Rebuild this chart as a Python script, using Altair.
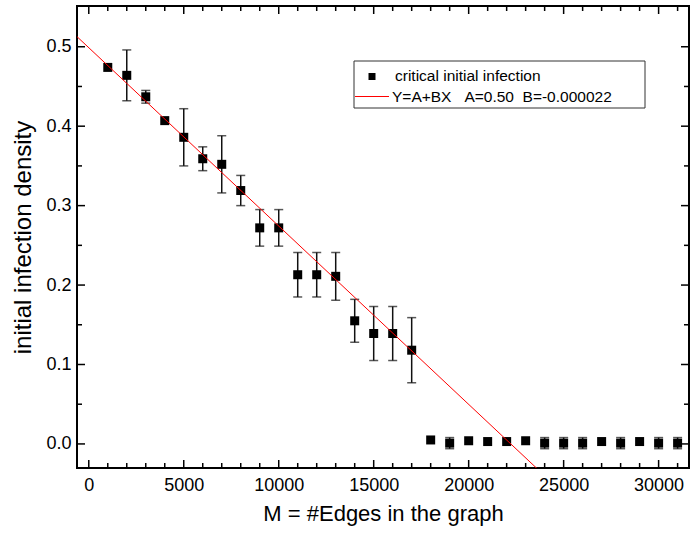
import altair as alt
import pandas as pd

# ---- data ----
m_edges = [1000, 2000, 3000, 4000, 5000, 6000, 7000, 8000, 9000, 10000,
           11000, 12000, 13000, 14000, 15000, 16000, 17000, 18000, 19000, 20000,
           21000, 22000, 23000, 24000, 25000, 26000, 27000, 28000, 29000, 30000, 31000]
density = [0.474, 0.464, 0.437, 0.407, 0.386, 0.359, 0.352, 0.319, 0.272, 0.272,
           0.213, 0.213, 0.211, 0.155, 0.139, 0.139, 0.118, 0.005, 0.001, 0.004,
           0.003, 0.003, 0.004, 0.001, 0.001, 0.001, 0.003, 0.001, 0.003, 0.001, 0.001]
err = [0.0, 0.032, 0.008, 0.0, 0.036, 0.015, 0.036, 0.019, 0.023, 0.023,
       0.028, 0.028, 0.030, 0.027, 0.034, 0.034, 0.041, 0.0, 0.007, 0.0,
       0.0, 0.0, 0.0, 0.007, 0.007, 0.007, 0.0, 0.007, 0.0, 0.007, 0.007]
fit_A = 0.4988
fit_B = -0.00002245
NB = "\u00a0"
series_label = "critical initial infection"
fit_label = f"Y=A+BX{NB}{NB}{NB}A=0.50{NB}{NB}B=-0.000022"

x_domain = [-620, 31600]
y_domain = [-0.0303, 0.5513]
x_major = [0, 5000, 10000, 15000, 20000, 25000, 30000]
x_minor = [v for v in range(1000, 32000, 1000) if v % 5000 != 0]
y_major = [0.0, 0.1, 0.2, 0.3, 0.4, 0.5]
y_minor = [0.05, 0.15, 0.25, 0.35, 0.45]

W, H = 612, 462
FONT = "Liberation Sans"

df = pd.DataFrame({"x": m_edges, "y": density, "err": err})
df["lo"] = df["y"] - df["err"]
df["hi"] = df["y"] + df["err"]
df_err = df[df["err"] > 0]

fit_x = [x_domain[0], 24500]
fit_df = pd.DataFrame({"x": fit_x, "y": [fit_A + fit_B * v for v in fit_x]})

xscale = alt.Scale(domain=x_domain, nice=False, zero=False)
yscale = alt.Scale(domain=y_domain, nice=False, zero=False)
xaxis = alt.Axis(values=x_major, format="d", ticks=False, domain=False, grid=False,
                 labelFontSize=18, labelPadding=8, labelFont=FONT, labelColor="black",
                 title="M = #Edges in the graph", titleFontSize=22, titleFont=FONT,
                 titleFontWeight="normal", titleColor="black", titlePadding=9)
yaxis = alt.Axis(values=y_major, format=".1f", ticks=False, domain=False, grid=False,
                 labelFontSize=18, labelPadding=6, labelFont=FONT, labelColor="black",
                 title="initial infection density", titleFontSize=24, titleFont=FONT,
                 titleFontWeight="normal", titleColor="black", titlePadding=10)


def X(field):
    return alt.X(f"{field}:Q", scale=xscale, axis=xaxis)


def Y(field):
    return alt.Y(f"{field}:Q", scale=yscale, axis=yaxis)


bars = alt.Chart(df_err).mark_rule(color="#111", strokeWidth=1.5).encode(
    x=X("x"), y=Y("lo"), y2="hi:Q")
cap_lo = alt.Chart(df_err).mark_tick(color="#111", orient="horizontal", size=9, thickness=1.5).encode(
    x=X("x"), y=Y("lo"))
cap_hi = alt.Chart(df_err).mark_tick(color="#111", orient="horizontal", size=9, thickness=1.5).encode(
    x=X("x"), y=Y("hi"))
points = alt.Chart(df).mark_square(size=81, color="black", opacity=1, filled=True).encode(
    x=X("x"), y=Y("y"))
fit = alt.Chart(fit_df).mark_line(color="#ff0000", strokeWidth=1, clip=True).encode(
    x=X("x"), y=Y("y"))

# inward tick marks on all four sides
xmaj = pd.DataFrame({"x": x_major})
xmin = pd.DataFrame({"x": x_minor})
ymaj = pd.DataFrame({"y": y_major})
ymin = pd.DataFrame({"y": y_minor})
tick_layers = []
for d, ln in ((xmaj, 8), (xmin, 5)):
    tick_layers.append(alt.Chart(d).mark_rule(color="black", strokeWidth=1.5).encode(
        x=X("x"), y=alt.value(H), y2=alt.value(H - ln)))
    tick_layers.append(alt.Chart(d).mark_rule(color="black", strokeWidth=1.5).encode(
        x=X("x"), y=alt.value(0), y2=alt.value(ln)))
for d, ln in ((ymaj, 8), (ymin, 5)):
    tick_layers.append(alt.Chart(d).mark_rule(color="black", strokeWidth=1.5).encode(
        y=Y("y"), x=alt.value(0), x2=alt.value(ln)))
    tick_layers.append(alt.Chart(d).mark_rule(color="black", strokeWidth=1.5).encode(
        y=Y("y"), x=alt.value(W), x2=alt.value(W - ln)))

# legend box
one = pd.DataFrame({"a": [0]})
leg_box = alt.Chart(one).mark_rect(fill="white", stroke="#333", strokeWidth=1).encode(
    x=alt.value(277), x2=alt.value(568), y=alt.value(55), y2=alt.value(102))
leg_sq = alt.Chart(one).mark_square(size=49, color="black", opacity=1).encode(
    x=alt.value(295), y=alt.value(70.5))
leg_line = alt.Chart(one).mark_rule(color="#ff0000", strokeWidth=1).encode(
    x=alt.value(278), x2=alt.value(312), y=alt.value(90.5))
leg_txt1 = alt.Chart(pd.DataFrame({"t": [series_label]})).mark_text(
    align="left", baseline="middle", font=FONT, fontSize=15.5, color="black").encode(
    x=alt.value(318), y=alt.value(69.5), text="t:N")
leg_txt2 = alt.Chart(pd.DataFrame({"t": [fit_label]})).mark_text(
    align="left", baseline="middle", font=FONT, fontSize=15.5, color="black").encode(
    x=alt.value(315), y=alt.value(90.5), text="t:N")

chart = alt.layer(
    bars, cap_lo, cap_hi, points, fit, *tick_layers,
    leg_box, leg_sq, leg_line, leg_txt1, leg_txt2
).properties(
    width=W, height=H,
    autosize=alt.AutoSizeParams(type="none"),
    padding={"left": 77, "top": 6, "right": 2, "bottom": 66},
    background="white",
).configure_view(
    stroke="black", strokeWidth=2
)

chart.save("out.html", embed_options={"renderer": "svg", "actions": False})
